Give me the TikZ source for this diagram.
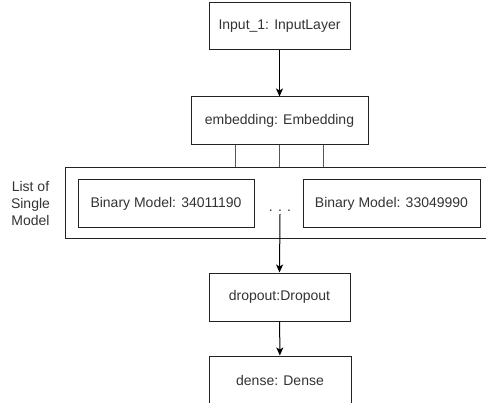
\documentclass[tikz,border=0pt]{standalone}
\usepackage{fontspec}
\setmainfont{Liberation Sans}
\usetikzlibrary{arrows.meta}
\definecolor{txt}{HTML}{333333}
\definecolor{edge}{HTML}{222222}
\definecolor{conn}{HTML}{555555}
\tikzset{
  layer/.style={draw=edge, line width=1pt, rectangle, minimum height=47pt, text=txt, font=\fontsize{14pt}{17pt}\selectfont, inner sep=0pt},
  flow/.style={draw=black, line width=1pt, -{Stealth[length=8pt,width=7pt,inset=2pt]}},
  link/.style={draw=conn, line width=1.2pt}
}
\begin{document}
\begin{tikzpicture}[x=1pt,y=-1pt]
\clip (0,0) rectangle (486,403);
\useasboundingbox (0,0) rectangle (486,403);
\node[layer, minimum width=141pt] (input) at (279.5,26.5) {Input\_1: InputLayer};
\node[layer, minimum width=177pt, minimum height=48pt] (emb) at (279.5,121) {embedding: Embedding};
\node[draw=edge, line width=1pt, rectangle, minimum width=430pt, minimum height=70pt, inner sep=0pt] (list) at (280,203) {};
\node[layer, minimum width=176pt] (bin1) at (166,203.5) {Binary Model: 34011190};
\node[layer, minimum width=177pt] (bin2) at (391.5,203.5) {Binary Model: 33049990};
\node[text=txt, font=\fontsize{14pt}{17pt}\selectfont, inner sep=0pt] (dots) at (280,211) {. . .};
\node[text=txt, font=\fontsize{14pt}{17pt}\selectfont, align=center, inner sep=0pt] (lbl) at (30.5,203) {List of\\Single\\Model};
\node[layer, minimum width=141pt, minimum height=48pt] (drop) at (279.5,297) {dropout:Dropout};
\node[layer, minimum width=142pt, minimum height=48pt] (dense) at (280,380) {dense: Dense};
\draw[flow] (input) -- (emb);
\draw[link] ([xshift=-44pt]emb.south) -- ([xshift=-44pt]emb.south |- list.north);
\draw[link] (emb.south) -- (emb.south |- list.north);
\draw[link] ([xshift=44pt]emb.south) -- ([xshift=44pt]emb.south |- list.north);
\draw[flow] ([yshift=-2pt]dots.south) -- (drop.north);
\draw[flow] (drop) -- (dense);
\end{tikzpicture}
\end{document}
